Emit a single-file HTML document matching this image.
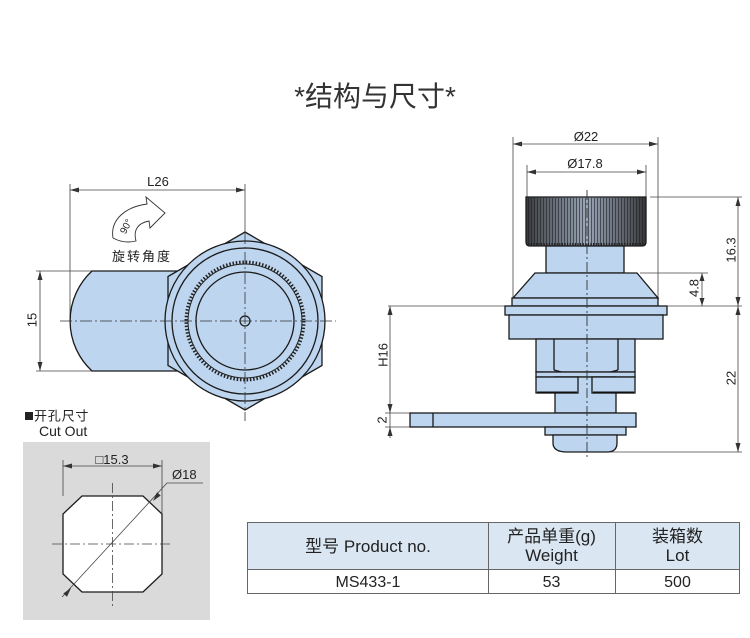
<!DOCTYPE html>
<html><head><meta charset="utf-8"><style>
html,body{margin:0;padding:0;background:#fff;}
svg{display:block;}
text{font-family:"Liberation Sans","Noto Sans CJK SC",sans-serif;fill:#222;}
</style></head><body>
<svg width="750" height="638" viewBox="0 0 750 638" xmlns="http://www.w3.org/2000/svg">
<defs>
<linearGradient id="kg" x1="0" x2="1" y1="0" y2="0">
<stop offset="0" stop-color="#38383a"/><stop offset="0.12" stop-color="#55595f"/><stop offset="0.35" stop-color="#7a8492"/><stop offset="0.5" stop-color="#9ba8b8"/><stop offset="0.65" stop-color="#7c8694"/><stop offset="0.88" stop-color="#53565c"/><stop offset="1" stop-color="#363638"/>
</linearGradient>
<pattern id="ks" width="3" height="10" patternUnits="userSpaceOnUse"><rect x="0" y="0" width="1" height="10" fill="#1e1e22" opacity="0.6"/></pattern>
</defs>

<!-- Title -->
<text x="375" y="106" font-size="28" text-anchor="middle" style="fill:#333">*结构与尺寸*</text>

<!-- ============ LEFT FIGURE ============ -->
<g stroke="#444" stroke-width="0.8" fill="none">
<line x1="70" y1="184" x2="70" y2="321"/>
<line x1="245" y1="184" x2="245" y2="232"/>
<line x1="70" y1="190" x2="245" y2="190"/>
<line x1="36" y1="271" x2="93" y2="271"/>
<line x1="36" y1="371" x2="93" y2="371"/>
<line x1="40" y1="271" x2="40" y2="371"/>
</g>
<g fill="#333">
<polygon points="70,190 79,187.5 79,192.5"/>
<polygon points="245,190 236,187.5 236,192.5"/>
<polygon points="40,271 37.5,280 42.5,280"/>
<polygon points="40,371 37.5,362 42.5,362"/>
</g>
<text x="158" y="186" font-size="13" text-anchor="middle">L26</text>
<text transform="translate(32,320) rotate(-90)" font-size="13" text-anchor="middle" dy="0.36em">15</text>

<!-- rotation icon -->
<path d="M113 238 C110 220 125 207 147 204 L146 197 L165 213 L150 228 L149 221 C138 223 133 230 136 241 Q124 244 113 238 Z" fill="#fff" stroke="#333" stroke-width="0.9"/>
<text transform="translate(129,228) rotate(-62)" font-size="10" text-anchor="middle">90°</text>
<text x="112" y="261" font-size="13" letter-spacing="2">旋转角度</text>

<!-- lever -->
<path d="M92 271 L245 271 L245 371 L92 371 A68 68 0 0 1 92 271 Z" fill="#bdd5ee" stroke="#1a1a1a" stroke-width="1.3"/>
<!-- hex -->
<polygon points="245,232 322,276.5 322,365.5 245,410 168,365.5 168,276.5" fill="#bdd5ee" stroke="#1a1a1a" stroke-width="1.3"/>
<circle cx="245" cy="321" r="80" fill="#bdd5ee" stroke="#1a1a1a" stroke-width="1.3"/>
<circle cx="245" cy="321" r="73" fill="none" stroke="#1a1a1a" stroke-width="1.3"/>
<circle cx="245" cy="321" r="58.7" fill="none" stroke="#222" stroke-width="3.6" stroke-dasharray="1.5 1.8"/>
<circle cx="245" cy="321" r="57" fill="none" stroke="#222" stroke-width="1"/>
<circle cx="245" cy="321" r="49" fill="none" stroke="#1a1a1a" stroke-width="1.3"/>
<circle cx="245" cy="321" r="5" fill="#bdd5ee" stroke="#1a1a1a" stroke-width="1.2"/>
<g stroke="#333" stroke-width="0.8" stroke-dasharray="12 3 2 3" fill="none">
<line x1="60" y1="321" x2="336" y2="321"/>
<line x1="245" y1="232" x2="245" y2="421"/>
</g>

<!-- ============ CUT OUT ============ -->
<rect x="25" y="412" width="8" height="8" fill="#222"/>
<text x="34" y="420.5" font-size="13" letter-spacing="0.8">开孔尺寸</text>
<text x="39" y="436" font-size="14">Cut Out</text>
<rect x="23" y="442" width="187" height="178" fill="#dadada"/>
<polygon points="82,496 143,496 162,514 162,574 143,592 82,592 63,574 63,514" fill="#fff" stroke="#1a1a1a" stroke-width="1.3"/>
<g stroke="#444" stroke-width="0.8" fill="none">
<line x1="63" y1="460" x2="63" y2="496"/>
<line x1="162" y1="460" x2="162" y2="514"/>
<line x1="63" y1="466" x2="162" y2="466"/>
<polyline points="62,597 167,483 203,483"/>
</g>
<g stroke="#444" stroke-width="0.8" stroke-dasharray="10 3 2 3" fill="none">
<line x1="52" y1="544" x2="172" y2="544"/>
<line x1="112.5" y1="483" x2="112.5" y2="606"/>
</g>
<g fill="#333">
<polygon points="63,466 72,463.5 72,468.5"/>
<polygon points="162,466 153,463.5 153,468.5"/>
<polygon points="153,501 160.7,495.5 157,492.2"/>
<polygon points="71,588 63.3,593.5 67,596.8"/>
</g>
<text x="112" y="464" font-size="13" text-anchor="middle">□15.3</text>
<text x="172" y="479" font-size="13">Ø18</text>

<!-- ============ RIGHT FIGURE ============ -->
<g stroke="#444" stroke-width="0.8" fill="none">
<line x1="513" y1="137" x2="513" y2="300"/>
<line x1="658" y1="137" x2="658" y2="300"/>
<line x1="513" y1="144" x2="658" y2="144"/>
<line x1="527" y1="165" x2="527" y2="197"/>
<line x1="646" y1="165" x2="646" y2="197"/>
<line x1="527" y1="172" x2="646" y2="172"/>
<line x1="650" y1="197" x2="742" y2="197"/>
<line x1="640" y1="273" x2="708" y2="273"/>
<line x1="388" y1="306" x2="742" y2="306"/>
<line x1="590" y1="452" x2="742" y2="452"/>
<line x1="738" y1="197" x2="738" y2="452"/>
<line x1="702" y1="273" x2="702" y2="306"/>
<line x1="390" y1="306" x2="390" y2="438"/>
<line x1="385" y1="413" x2="410" y2="413"/>
<line x1="385" y1="427" x2="410" y2="427"/>
</g>
<g fill="#333">
<polygon points="513,144 522,141.5 522,146.5"/>
<polygon points="658,144 649,141.5 649,146.5"/>
<polygon points="527,172 536,169.5 536,174.5"/>
<polygon points="646,172 637,169.5 637,174.5"/>
<polygon points="738,197 735.5,206 740.5,206"/>
<polygon points="738,306 735.5,297 740.5,297"/>
<polygon points="738,306 735.5,315 740.5,315"/>
<polygon points="738,452 735.5,443 740.5,443"/>
<polygon points="702,273 699.5,281 704.5,281"/>
<polygon points="702,306 699.5,298 704.5,298"/>
<polygon points="390,306 387.5,315 392.5,315"/>
<polygon points="390,413 387.5,404 392.5,404"/>
<polygon points="390,427 387.5,436 392.5,436"/>
</g>
<text x="586" y="141" font-size="13" text-anchor="middle">Ø22</text>
<text x="585" y="168" font-size="13" text-anchor="middle">Ø17.8</text>
<text transform="translate(731,250) rotate(-90)" font-size="13" text-anchor="middle" dy="0.36em">16.3</text>
<text transform="translate(694,288) rotate(-90)" font-size="13" text-anchor="middle" dy="0.36em">4.8</text>
<text transform="translate(383,355) rotate(-90)" font-size="13" text-anchor="middle" dy="0.36em">H16</text>
<text transform="translate(382,420) rotate(-90)" font-size="13" text-anchor="middle" dy="0.36em">2</text>
<text transform="translate(731,378) rotate(-90)" font-size="13" text-anchor="middle" dy="0.36em">22</text>

<g stroke="#1a1a1a" stroke-width="1.3" fill="#bdd5ee">
<path d="M526 197 L646 197 L646 242 Q646 246 642 246 L530 246 Q526 246 526 242 Z" fill="url(#kg)"/>
</g>
<rect x="527" y="198" width="118" height="47" fill="url(#ks)"/>
<line x1="528" y1="244.5" x2="644" y2="244.5" stroke="#222" stroke-width="3" stroke-dasharray="1.2 1.4"/>
<g stroke="#1a1a1a" stroke-width="1.3" fill="#bdd5ee">
<rect x="546" y="246" width="78" height="27"/>
<polygon points="535,273 637,273 658,298 513,298"/>
<rect x="512" y="298" width="146" height="8"/>
<rect x="505" y="306" width="162" height="9"/>
<rect x="509" y="315" width="154" height="24"/>
<rect x="536" y="339" width="99" height="33"/>
<line x1="554" y1="339" x2="554" y2="370"/>
<line x1="618" y1="339" x2="618" y2="370"/>
<path d="M554 370 Q586 380 618 370" fill="none"/>
<rect x="536" y="372" width="99" height="5"/>
<rect x="555" y="377" width="61" height="36"/>
<rect x="536" y="377" width="42" height="16"/>
<rect x="592" y="377" width="43" height="16"/>
<rect x="410" y="413" width="226" height="14"/>
<line x1="433" y1="413" x2="433" y2="427"/>
<rect x="545" y="427" width="81" height="8"/>
<path d="M553 435 L617 435 L617 443 Q617 452 607 452 L567 452 Q553 452 553 443 Z"/>
</g>
<line x1="537" y1="392.5" x2="577" y2="392.5" stroke="#111" stroke-width="2"/>
<line x1="593" y1="392.5" x2="634" y2="392.5" stroke="#111" stroke-width="2"/>
<line x1="587" y1="190" x2="587" y2="458" stroke="#333" stroke-width="0.9" stroke-dasharray="10 3 2 3"/>

<!-- ============ TABLE ============ -->
<rect x="247" y="522" width="493" height="47" fill="#dae6f2"/>
<rect x="247" y="569" width="493" height="25" fill="#fff"/>
<g stroke="#666" stroke-width="1" fill="none">
<rect x="247.5" y="522.5" width="492" height="71"/>
<line x1="247" y1="569.5" x2="740" y2="569.5"/>
<line x1="488.5" y1="522" x2="488.5" y2="594"/>
<line x1="615.5" y1="522" x2="615.5" y2="594"/>
</g>
<text x="368" y="552" font-size="17" text-anchor="middle">型号 Product no.</text>
<text x="551.5" y="542" font-size="17" text-anchor="middle">产品单重(g)</text>
<text x="551.5" y="561" font-size="17" text-anchor="middle">Weight</text>
<text x="677.5" y="542" font-size="17" text-anchor="middle">装箱数</text>
<text x="677.5" y="561" font-size="17" text-anchor="middle">Lot</text>
<text x="368" y="587" font-size="16" text-anchor="middle">MS433-1</text>
<text x="551.5" y="587" font-size="16" text-anchor="middle">53</text>
<text x="677.5" y="587" font-size="16" text-anchor="middle">500</text>
</svg>
</body></html>
